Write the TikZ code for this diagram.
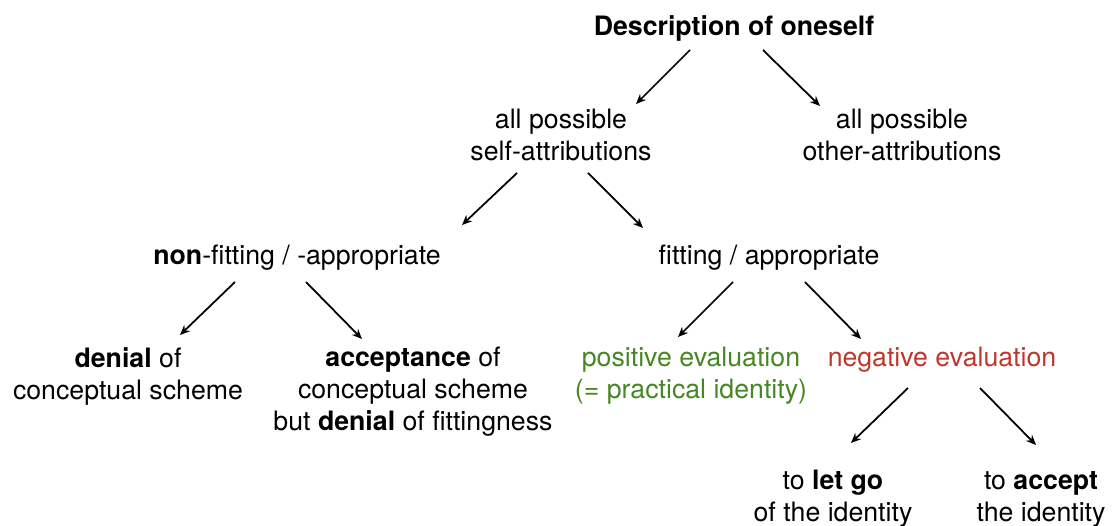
\documentclass[tikz,border=0pt]{standalone}
\usepackage{fontspec}
\setmainfont{TeX Gyre Heros}
\usepackage{tikz}
\definecolor{posgreen}{RGB}{70,135,35}
\definecolor{negred}{RGB}{190,55,45}
\tikzset{>=stealth}
\usetikzlibrary{arrows.meta, positioning}
\tikzset{
    txt/.style={inner sep=0pt, align=center, font=\fontsize{15.2}{18.2}\selectfont},
    arr/.style={-{Stealth[length=0.2cm,width=0.17cm]}, line width=1pt}
}

\begin{document}
\begin{tikzpicture}[x=0.02cm, y=-0.02cm]
        \useasboundingbox (0,0) rectangle (1113,526);

        % Top level
        \node[txt] (desc) at (734,28) {\textbf{Description of oneself}};
        \node[txt] (self) at (561,135) {all possible\\self-attributions};
        \node[txt] (other) at (902,135) {all possible\\other-attributions};

        % Second level
        \node[txt] (nonfit) at (297,258) {\textbf{non}-fitting / -appropriate};
        \node[txt] (fit) at (769,258) {fitting / appropriate};

        % Third level
        \node[txt] (denial) at (128,376) {\textbf{denial} of\\conceptual scheme};
        \node[txt] (accept) at (413,392) {\textbf{acceptance} of\\conceptual scheme\\but \textbf{denial} of fittingness};
        \node[txt, posgreen] (pos) at (691,376) {positive evaluation\\(= practical identity)};
        \node[txt, negred] (neg) at (942,360) {negative evaluation};

        % Bottom level
        \node[txt] (letgo) at (833,499) {to \textbf{let go}\\of the identity};
        \node[txt] (acceptid) at (1041,499) {to \textbf{accept}\\the identity};

        % Arrows
        \draw[arr] ([shift={(-44,22)}]desc.center) -- ([shift={(75,-31)}]self.center);
        \draw[arr] ([shift={(29,22)}]desc.center) -- ([shift={(-82,-29)}]other.center);
        \draw[arr] ([shift={(-44,38)}]self.center) -- ([shift={(165,-33)}]nonfit.center);
        \draw[arr] ([shift={(27,38)}]self.center) -- ([shift={(-126,-30)}]fit.center);
        \draw[arr] ([shift={(-62,24)}]nonfit.center) -- ([shift={(52,-41)}]denial.center);
        \draw[arr] ([shift={(9,24)}]nonfit.center) -- ([shift={(-51,-53)}]accept.center);
        \draw[arr] ([shift={(-36,24)}]fit.center) -- ([shift={(-13,-39)}]pos.center);
        \draw[arr] ([shift={(36,24)}]fit.center) -- ([shift={(-81,-21)}]neg.center);
        \draw[arr] ([shift={(-34,28)}]neg.center) -- ([shift={(18,-56)}]letgo.center);
        \draw[arr] ([shift={(38,28)}]neg.center) -- ([shift={(-5,-54)}]acceptid.center);
\end{tikzpicture}
\end{document}
